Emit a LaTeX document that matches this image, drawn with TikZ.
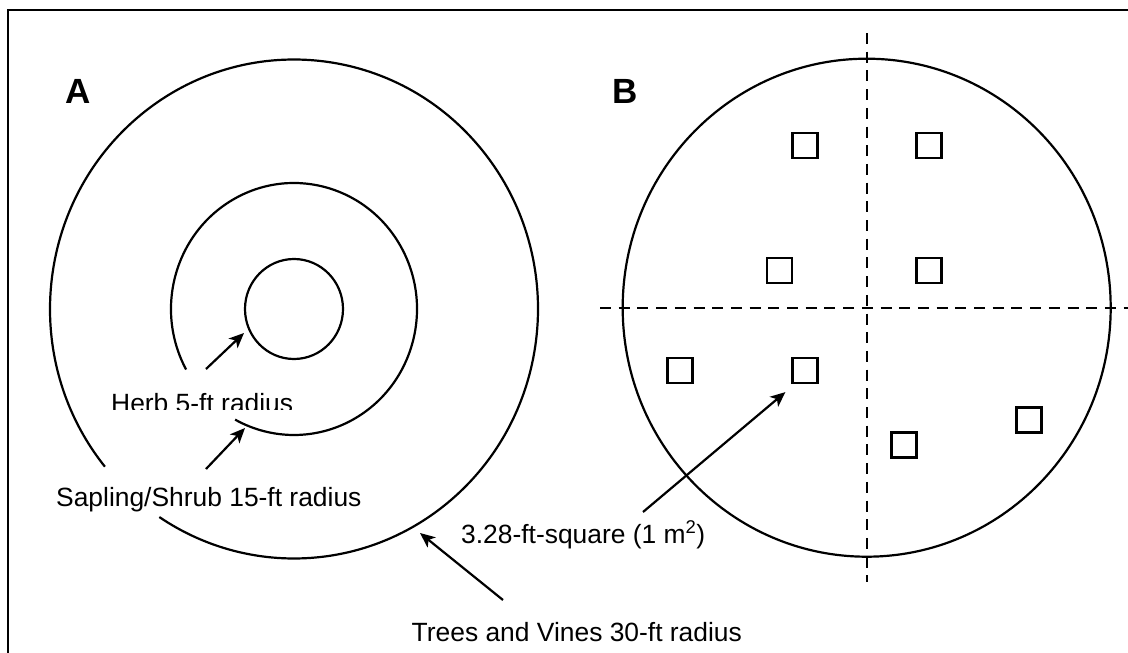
\documentclass[tikz,border=0pt]{standalone}
\usepackage{fontspec}
\setmainfont{Liberation Sans}
\usetikzlibrary{arrows.meta}
\begin{document}
\begin{tikzpicture}[x=1pt,y=-1pt,
  ring/.style={line width=2.2pt},
  divider/.style={line width=2.4pt, dash pattern=on 11pt off 7.7pt},
  plotsq/.style={draw, line width=2.2pt, rectangle, minimum width=25pt, minimum height=25pt, inner sep=0pt},
  lbl/.style={anchor=base west, inner sep=0pt, font=\fontsize{26.4}{31}\selectfont},
  panel/.style={anchor=base west, inner sep=0pt, font=\fontsize{35}{40}\selectfont\bfseries},
  pointer/.style={line width=2.2pt, -{Stealth[length=15pt,width=13pt,inset=4pt]}}]
\useasboundingbox (0,0) rectangle (1128,653);
\fill[white] (0,0) rectangle (1128,653);
% frame
\draw[line width=2.4pt] (8,660) -- (8,10) -- (1135,10);
% panel labels
\node[panel] (labA) at (65,103) {A};
\node[panel] (labB) at (612,103) {B};
% Panel A rings
\draw[ring] (294,309) ellipse[x radius=49, y radius=50];
\draw[ring] (294,309) ++(151.3:123 and 126) arc[start angle=151.3, end angle=478.6, x radius=123, y radius=126];
\draw[ring] (294,309) ++(140.8:244 and 249.5) arc[start angle=140.8, end angle=483.5, x radius=244, y radius=249.5];
% labels A
\begin{scope}
\clip (0,0) rectangle (1128,409);
\node[lbl] (herbL) at (111,412) {Herb 5-ft radius};
\end{scope}
\node[lbl] (sapL) at (56,506) {Sapling/Shrub 15-ft radius};
\node[lbl] (treeL) at (411.5,641) {Trees and Vines 30-ft radius};
\coordinate (herbS) at (206,369);
\coordinate (herbT) at (244,333);
\coordinate (sapS) at (206,469);
\coordinate (sapT) at (245,428);
\coordinate (treeS) at (503,600);
\coordinate (treeT) at (420,533);
\draw[pointer] (herbS) -- (herbT);
\draw[pointer] (sapS) -- (sapT);
\draw[pointer] (treeS) -- (treeT);
% Panel B
\draw[ring] (866.7,307.7) ellipse[x radius=244, y radius=249];
\coordinate (vTop) at (866.7,33);
\coordinate (vBot) at (866.7,582);
\coordinate (hL) at (600,307.7);
\coordinate (hR) at (1128,307.7);
\draw[divider] (vTop) -- (vBot);
\draw[divider] (hL) -- (hR);
\node[plotsq] (q1) at (805,145.5) {};
\node[plotsq] (q2) at (929,145.5) {};
\node[plotsq] (q3) at (779.5,270.5) {};
\node[plotsq] (q4) at (929,270.5) {};
\node[plotsq] (q5) at (680,370.5) {};
\node[plotsq] (q6) at (805,370.5) {};
\node[plotsq] (q7) at (904,445) {};
\node[plotsq] (q8) at (1029,420) {};
\node[lbl] (sqL) at (461,543) {3.28-ft-square (1 m\textsuperscript{2})};
\coordinate (sqS) at (643,512);
\coordinate (sqT) at ([shift={(-6,8)}]q6.south west);
\draw[pointer] (sqS) -- (sqT);
\end{tikzpicture}
\end{document}
